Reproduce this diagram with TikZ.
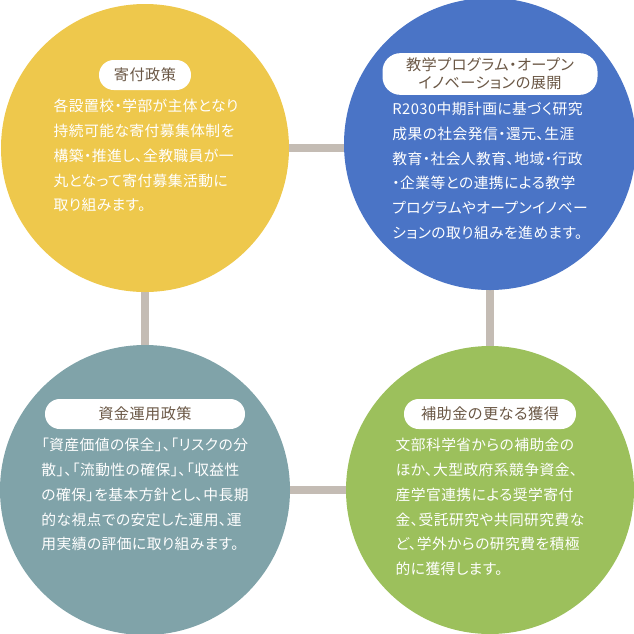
\documentclass[tikz,border=0pt]{standalone}
\usepackage{fontspec}
\setmainfont[RawFeature=+palt,LetterSpace=3]{Noto Sans CJK JP}
\usetikzlibrary{positioning}
\definecolor{yel}{HTML}{EEC84C}
\definecolor{blu}{HTML}{4A74C6}
\definecolor{tea}{HTML}{80A3A9}
\definecolor{grn}{HTML}{9CC05C}
\definecolor{bar}{HTML}{C4BCB4}
\definecolor{lbl}{HTML}{6B5846}
\begin{document}
\begin{tikzpicture}[x=0.025cm,y=-0.025cm,
  circ/.style={circle, inner sep=0pt, minimum size=0.025cm*288},
  link/.style={draw=bar, line width=2.2mm},
  pill/.style={fill=white, rounded corners=0.37cm, text=lbl, align=center,
    font=\fontsize{10.8pt}{13pt}\selectfont, minimum height=0.75cm, inner xsep=8pt},
  body/.style={text=white, align=left, anchor=north,
    font=\fontsize{10.5pt}{17.6pt}\selectfont, inner sep=0pt}
]
\useasboundingbox (0,0) rectangle (634,634);
% circles
\node[circ] (yelc) at (145,148) {};
\node[circ] (bluc) at (490,144) {};
\node[circ] (teac) at (145,490) {};
\node[circ] (grnc) at (490,490) {};
% links
\draw[link] (yelc.center) -- (bluc.center |- yelc.center);
\draw[link] (yelc.center) -- (teac.center);
\draw[link] (bluc.center) -- (grnc.center);
\draw[link] (teac.center) -- (grnc.center);
\fill[yel] (yelc) circle (144);
\fill[blu] (bluc) circle (146);
\fill[tea] (teac) circle (145);
\fill[grn] (grnc) circle (144);
% labels
\node[pill, minimum width=0.025cm*92] (yell) at (145,75) {寄付政策};
\node[pill, minimum width=0.025cm*215, rounded corners=0.45cm] (blul) at (490,74) {教学プログラム・オープン\\イノベーションの展開};
\node[pill, minimum width=0.025cm*200] (teal) at (145,414) {資金運用政策};
\node[pill, minimum width=0.025cm*172] (grnl) at (490,414) {補助金の更なる獲得};
% texts
\node[body] (yelt) at (146,99) {各設置校・学部が主体となり\\持続可能な寄付募集体制を\\構築・推進し、全教職員が一\\丸となって寄付募集活動に\\取り組みます。};
\node[body] (blut) at (490,102) {R2030中期計画に基づく研究\\成果の社会発信・還元、生涯\\教育・社会人教育、地域・行政\\・企業等との連携による教学\\プログラムやオープンイノベー\\ションの取り組みを進めます。};
\node[body] (teat) at (145,438) {「資産価値の保全」、「リスクの分\\散」、「流動性の確保」、「収益性\\の確保」を基本方針とし、中長期\\的な視点での安定した運用、運\\用実績の評価に取り組みます。};
\node[body] (grnt) at (490,438) {文部科学省からの補助金の\\ほか、大型政府系競争資金、\\産学官連携による奨学寄付\\金、受託研究や共同研究費な\\ど、学外からの研究費を積極\\的に獲得します。};
\end{tikzpicture}
\end{document}
